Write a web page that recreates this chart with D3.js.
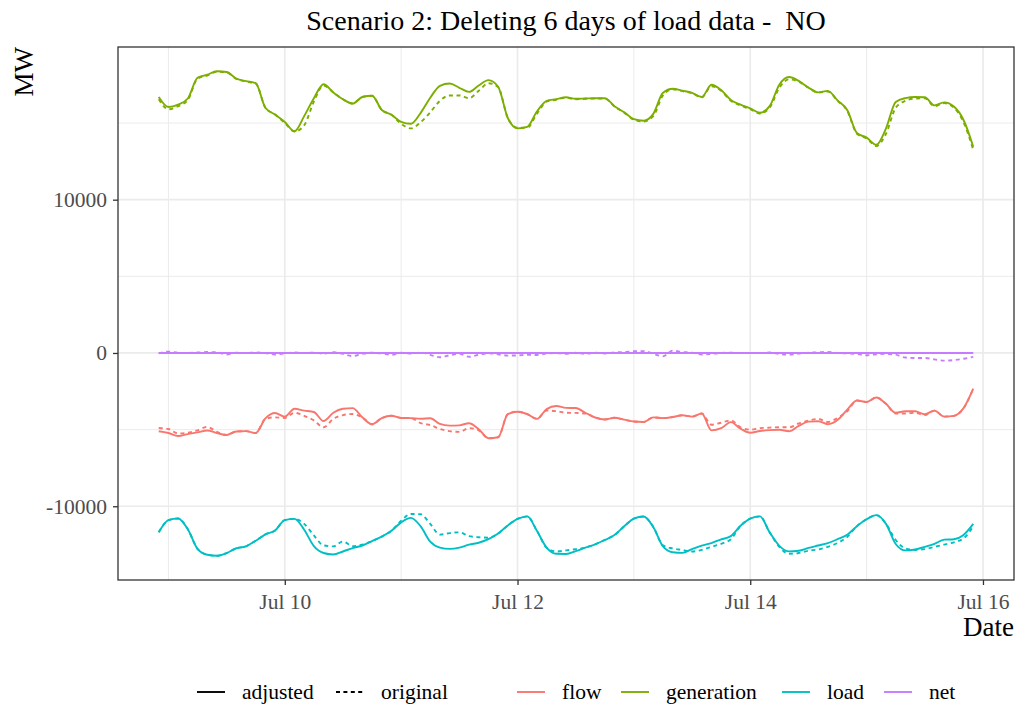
<!DOCTYPE html>
<html>
<head>
<meta charset="utf-8">
<script src="https://cdn.jsdelivr.net/npm/d3@7"></script>
<style>
  body { margin: 0; background: #fff; }
  svg { display: block; font-family: "Liberation Serif", "DejaVu Serif", serif; }
</style>
</head>
<body>
<svg id="chart" width="1016" height="704"></svg>
<script>
/* Scenario 2 — adjusted vs original series, NO */

// two-hourly readings, Jul 8 22:00 -> Jul 15 22:00
const START = Date.UTC(2020, 6, 8, 22);
const END = Date.UTC(2020, 6, 15, 22);

const genAdjusted = [16700,16050,16200,16600,17950,18150,18380,18330,17900,17730,17600,16000,15550,15070,14460,15450,16620,17530,17000,16550,16270,16700,16780,15850,15540,15080,14950,15650,16650,17430,17580,17300,17030,17450,17800,17370,15330,14650,14750,15750,16450,16560,16680,16580,16600,16620,16620,16100,15700,15250,15150,15600,16970,17240,17110,16970,16700,17500,17150,16500,16200,15950,15670,16100,17500,18000,17750,17320,17000,17100,16480,15850,14350,14050,13580,14650,16380,16630,16700,16680,16150,16350,16080,15200,13450];
const genOriginal = [16550,15900,16100,16500,17900,18100,18350,18300,17880,17700,17580,16000,15550,15000,14450,14850,16400,17450,17000,16550,16270,16700,16780,15850,15540,14950,14650,15050,15700,16450,16800,16800,16620,17100,17600,17350,15330,14700,14700,15600,16400,16520,16650,16550,16580,16600,16600,16080,15680,15220,15100,15450,16800,17200,17080,16950,16680,17400,17100,16450,16150,15900,15620,16000,17300,17850,17700,17300,16980,17050,16450,15800,14300,14000,13500,14300,16000,16450,16600,16620,16100,16300,16000,15050,13250];

const flowAdjusted = [-5110,-5220,-5420,-5290,-5180,-5060,-5220,-5350,-5120,-5100,-5220,-4270,-3920,-4150,-3640,-3760,-3850,-4440,-3900,-3640,-3600,-4200,-4650,-4250,-4100,-4240,-4250,-4290,-4260,-4630,-4740,-4720,-4580,-4970,-5560,-5500,-3990,-3830,-3990,-4300,-3660,-3460,-3580,-3590,-3900,-4210,-4340,-4230,-4350,-4470,-4500,-4200,-4250,-4180,-4060,-4150,-3950,-5050,-4910,-4510,-4940,-5200,-5090,-5030,-5010,-5110,-4750,-4480,-4450,-4650,-4380,-3700,-3100,-3200,-2900,-3320,-3900,-3800,-3800,-4000,-3760,-4150,-4100,-3600,-2330];
const flowOriginal = [-4890,-4960,-5250,-5200,-5050,-4820,-5150,-5350,-5120,-5100,-5220,-4300,-4200,-4240,-3900,-4100,-4400,-4850,-4300,-4050,-3980,-4200,-4650,-4250,-4100,-4240,-4250,-4570,-4700,-4960,-5100,-5150,-4900,-5050,-5560,-5500,-3990,-3830,-3990,-4300,-3750,-3800,-3900,-3910,-3950,-4210,-4340,-4230,-4350,-4470,-4500,-4200,-4250,-4180,-4060,-4150,-3950,-4680,-4550,-4400,-4850,-5000,-4900,-4870,-4850,-4850,-4600,-4420,-4300,-4500,-4240,-3800,-3100,-3200,-2900,-3320,-3950,-3950,-3900,-4050,-3760,-4150,-4100,-3600,-2330];

const loadAdjusted = [-11700,-10900,-10800,-11500,-12780,-13160,-13230,-13050,-12740,-12610,-12250,-11830,-11580,-10900,-10820,-11530,-12600,-13050,-13150,-12950,-12730,-12560,-12270,-11980,-11600,-11050,-10760,-11300,-12310,-12700,-12780,-12700,-12500,-12380,-12150,-11780,-11250,-10830,-10660,-11600,-12700,-13100,-13110,-12930,-12700,-12480,-12200,-11880,-11310,-10800,-10670,-11350,-12620,-13000,-13040,-12800,-12570,-12400,-12160,-11950,-11270,-10800,-10660,-11700,-12580,-12940,-12900,-12720,-12560,-12400,-12150,-11860,-11300,-10850,-10580,-11150,-12460,-12880,-12820,-12650,-12450,-12180,-12150,-11870,-11150];
const loadOriginal = [-11700,-10900,-10800,-11500,-12780,-13160,-13230,-13050,-12740,-12610,-12250,-11830,-11580,-10900,-10820,-11150,-11900,-12550,-12620,-12300,-12600,-12500,-12270,-11980,-11600,-10950,-10500,-10520,-11150,-11850,-11750,-11700,-11950,-12020,-12050,-11780,-11250,-10830,-10660,-11600,-12700,-12950,-12880,-12800,-12700,-12480,-12200,-11880,-11310,-10800,-10670,-11350,-12550,-12750,-12850,-12950,-12850,-12650,-12450,-12150,-11270,-10800,-10660,-11700,-12650,-13100,-13050,-12900,-12820,-12650,-12400,-12000,-11300,-10850,-10580,-11150,-12200,-12750,-12850,-12800,-12650,-12500,-12350,-12100,-11300];

const netAdjusted = [0,0,0,0,0,0,0,0,0,0,0,0,0,0,0,0,0,0,0,0,0,0,0,0,0,0,0,0,0,0,0,0,0,0,0,0,0,0,0,0,0,0,0,0,0,0,0,0,0,0,0,0,0,0,0,0,0,0,0,0,0,0,0,0,0,0,0,0,0,0,0,0,0,0,0,0,0,0,0,0,0,0,0,0,0];
const netOriginal = [-30,90,20,0,30,60,40,-100,20,0,30,0,-100,-20,30,0,20,-40,50,-60,-200,-60,20,-30,-120,10,-40,30,-120,-280,-150,-60,-250,-120,-20,-80,-170,-160,-120,-130,-30,0,-60,10,-50,20,-30,40,60,110,120,-50,-220,150,60,20,-100,-60,0,20,0,10,0,30,-60,-110,-40,20,40,70,0,-30,-60,-150,-80,-60,-110,-300,-330,-330,-420,-500,-460,-380,-250];

const variables = ['flow', 'generation', 'load', 'net'];
const colors = ['#F8766D', '#7CAE00', '#00BFC4', '#C77CFF'];
const types = ['adjusted', 'original'];
const dashes = [null, '4,3.6'];

const yTicks = [-10000, 0, 10000];
const yMinor = [-5000, 5000, 15000];

const M = { left: 118, right: 1014, top: 47, bottom: 580 };

const times = d3.utcHour.every(2).range(START, END + 1);

const seriesList = [
  { variable: 'flow', type: 'adjusted', values: flowAdjusted },
  { variable: 'flow', type: 'original', values: flowOriginal },
  { variable: 'generation', type: 'adjusted', values: genAdjusted },
  { variable: 'generation', type: 'original', values: genOriginal },
  { variable: 'load', type: 'adjusted', values: loadAdjusted },
  { variable: 'load', type: 'original', values: loadOriginal },
  { variable: 'net', type: 'adjusted', values: netAdjusted },
  { variable: 'net', type: 'original', values: netOriginal },
];

const svg = d3.select('#chart');

// ggplot style 5% expansion
const tPad = (END - START) * 0.05;
const x = d3.scaleUtc()
  .domain([new Date(START - tPad), new Date(END + tPad)])
  .range([M.left, M.right]);

const vExt = d3.extent(seriesList.flatMap(s => s.values));
const vPad = (vExt[1] - vExt[0]) * 0.05;
const y = d3.scaleLinear()
  .domain([vExt[0] - vPad, vExt[1] + vPad])
  .range([M.bottom, M.top]);

const colorScale = d3.scaleOrdinal().domain(variables).range(colors);
const dashScale = d3.scaleOrdinal().domain(types).range(dashes);

function renderGrid() {
  const g = svg.append('g');
  const xMajor = d3.utcDay.range(new Date(Date.UTC(2020, 6, 10)), new Date(Date.UTC(2020, 6, 17)), 2);
  const xMinor = d3.utcDay.range(new Date(Date.UTC(2020, 6, 9)), new Date(Date.UTC(2020, 6, 16)), 2);

  g.selectAll('.ymin').data(yMinor).join('line')
    .attr('x1', M.left).attr('x2', M.right)
    .attr('y1', d => y(d)).attr('y2', d => y(d))
    .attr('stroke', '#EBEBEB').attr('stroke-width', 1);
  g.selectAll('.xmin').data(xMinor).join('line')
    .attr('x1', d => x(d)).attr('x2', d => x(d))
    .attr('y1', M.top).attr('y2', M.bottom)
    .attr('stroke', '#EBEBEB').attr('stroke-width', 1);
  g.selectAll('.ymaj').data(yTicks).join('line')
    .attr('x1', M.left).attr('x2', M.right)
    .attr('y1', d => y(d)).attr('y2', d => y(d))
    .attr('stroke', '#EBEBEB').attr('stroke-width', 1.7);
  g.selectAll('.xmaj').data(xMajor).join('line')
    .attr('x1', d => x(d)).attr('x2', d => x(d))
    .attr('y1', M.top).attr('y2', M.bottom)
    .attr('stroke', '#EBEBEB').attr('stroke-width', 1.7);
  return xMajor;
}

function renderLines() {
  const line = d3.line()
    .x((d, i) => x(times[i]))
    .y(d => y(d))
    .curve(d3.curveMonotoneX);
  svg.append('g').selectAll('path')
    .data(seriesList)
    .join('path')
    .attr('d', d => line(d.values))
    .attr('fill', 'none')
    .attr('stroke', d => colorScale(d.variable))
    .attr('stroke-width', 1.9)
    .attr('stroke-dasharray', d => dashScale(d.type))
    .attr('stroke-linejoin', 'round');
}

function renderAxes(xMajor) {
  svg.append('rect')
    .attr('x', M.left).attr('y', M.top)
    .attr('width', M.right - M.left).attr('height', M.bottom - M.top)
    .attr('fill', 'none').attr('stroke', '#333333').attr('stroke-width', 1.3);

  const xAxis = d3.axisBottom(x)
    .tickValues(xMajor)
    .tickFormat(d3.utcFormat('%b %d'))
    .tickSize(5).tickPadding(4);
  const gx = svg.append('g').attr('transform', `translate(0,${M.bottom})`).call(xAxis);

  const yAxis = d3.axisLeft(y)
    .tickValues(yTicks)
    .tickFormat(d3.format('d'))
    .tickSize(5).tickPadding(6);
  const gy = svg.append('g').attr('transform', `translate(${M.left},0)`).call(yAxis);

  [gx, gy].forEach(g => {
    g.select('.domain').remove();
    g.selectAll('.tick line').attr('stroke', '#333333').attr('stroke-width', 1.3);
    g.selectAll('.tick text')
      .attr('fill', '#4D4D4D')
      .attr('font-size', 21.5)
      .attr('font-family', '"Liberation Serif", serif');
  });
  gx.selectAll('.tick text').attr('dy', '0.95em');
  gy.selectAll('.tick text').text(d => d < 0 ? '-' + Math.abs(d) : d);
}

function renderTitles() {
  svg.append('text')
    .attr('x', (M.left + M.right) / 2).attr('y', 30)
    .attr('text-anchor', 'middle')
    .attr('font-size', 28).attr('fill', '#000')
    .text('Scenario 2: Deleting 6 days of load data -\u00a0 NO');

  svg.append('text')
    .attr('transform', `translate(33,${M.top}) rotate(-90)`)
    .attr('text-anchor', 'end')
    .attr('font-size', 27).attr('fill', '#000')
    .text('MW');

  svg.append('text')
    .attr('x', M.right).attr('y', 636)
    .attr('text-anchor', 'end')
    .attr('font-size', 27).attr('fill', '#000')
    .text('Date');
}

function renderLegend() {
  const g = svg.append('g').attr('font-size', 21.5);
  const ky = 692;
  const typeKeys = [{ label: 'adjusted', x: 197 }, { label: 'original', x: 336 }];
  const varKeys = [
    { label: 'flow', x: 517 }, { label: 'generation', x: 621 },
    { label: 'load', x: 782 }, { label: 'net', x: 884 },
  ];

  const tk = g.selectAll('.tk').data(typeKeys).join('g');
  tk.append('line')
    .attr('x1', d => d.x).attr('x2', d => d.x + 28)
    .attr('y1', ky).attr('y2', ky)
    .attr('stroke', '#000').attr('stroke-width', 1.9)
    .attr('stroke-dasharray', d => d.label === 'original' ? '4,3.4' : null);
  tk.append('text')
    .attr('x', d => d.x + 45).attr('y', ky + 6.5)
    .text(d => d.label);

  const vk = g.selectAll('.vk').data(varKeys).join('g');
  vk.append('line')
    .attr('x1', d => d.x).attr('x2', d => d.x + 28)
    .attr('y1', ky).attr('y2', ky)
    .attr('stroke', d => colorScale(d.label)).attr('stroke-width', 1.9);
  vk.append('text')
    .attr('x', d => d.x + 45).attr('y', ky + 6.5)
    .text(d => d.label);
}

const xMajor = renderGrid();
renderLines();
renderAxes(xMajor);
renderTitles();
renderLegend();
</script>
</body>
</html>
